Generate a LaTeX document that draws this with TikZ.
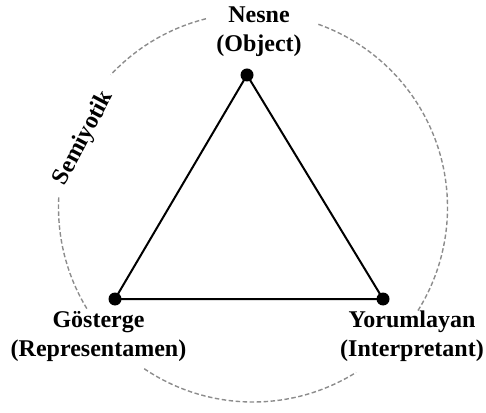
\documentclass[tikz,border=0pt]{standalone}
\usepackage{fontspec}
\setmainfont{Liberation Serif}
\usepackage{xcolor}
\usetikzlibrary{math}
\definecolor{semigray}{RGB}{140,140,140}

\begin{document}
\begin{tikzpicture}[x=1pt,y=1pt,
  dot/.style={circle,fill=black,inner sep=0pt,minimum size=13pt},
  lbl/.style={align=center,inner sep=0pt,font=\bfseries\fontsize{24}{29}\selectfont},
  ring/.style={semigray,line width=1.4pt,dash pattern=on 4.5pt off 2.5pt}]
\tikzmath{
\R=194.5;
}
\useasboundingbox (0,0) rectangle (486,412);

\coordinate (C) at (253,204.5);

\foreach \a/\b in {104/137,177/212,236/302,328/431}{
\draw[ring] (C) ++(\a:\R) arc[start angle=\a, end angle=\b, radius=\R];
}

\node[dot] (obj) at (247,337) {};
\node[dot] (rep) at (115,113) {};
\node[dot] (int) at (383,113) {};
\draw[line width=2pt] (obj.center) -- (rep.center) -- (int.center) -- cycle;

\node[lbl] (objlbl) at (259,380.5) {Nesne\\(Object)};
\node[lbl] (replbl) at (98.5,75.5) {Gösterge\\(Representamen)};
\node[lbl] (intlbl) at (412,76) {Yorumlayan\\(Interpretant)};
\node[lbl,rotate=62] (semi) at (84,274) {Semiyotik};

\end{tikzpicture}
\end{document}
